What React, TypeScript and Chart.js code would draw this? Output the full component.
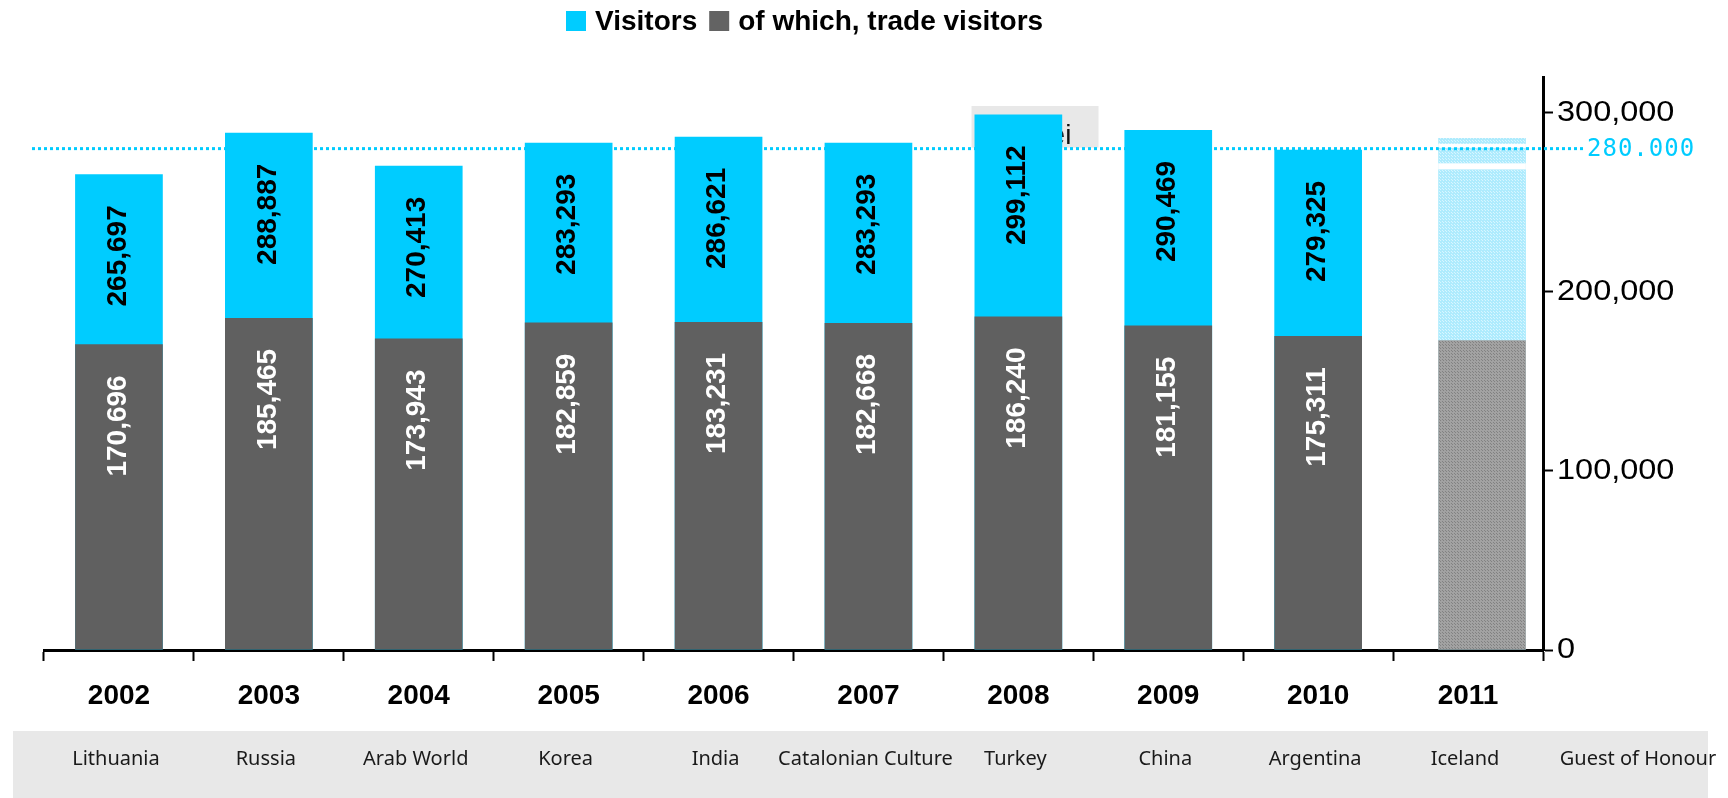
import React, { useEffect, useRef } from 'react';
import { Chart, registerables } from 'chart.js';

Chart.register(...registerables);

// ---- data ----
const years = ['2002', '2003', '2004', '2005', '2006', '2007', '2008', '2009', '2010', '2011'];
const guests = ['Lithuania', 'Russia', 'Arab World', 'Korea', 'India', 'Catalonian Culture', 'Turkey', 'China', 'Argentina', 'Iceland'];
const guestHeader = 'Guest of Honour';
const visitors = [265697, 288887, 270413, 283293, 286621, 283293, 299112, 290469, 279325, 286000];
const tradeVisitors = [170696, 185465, 173943, 182859, 183231, 182668, 186240, 181155, 175311, 173000];
const forecastIndex = 9;
const icelandGaps = [[282700, 280500], [271800, 268400]];
const targetLine = 280000;
const targetLabel = '280.000';
const yTicks = [0, 100000, 200000, 300000];
const yMax = 320000;
const noteText = 'Türkei';
const noteIndex = 6;
const legendLabels = ['Visitors', 'of which, trade visitors'];

const CYAN = '#00CCFF';
const GRAY = '#606060';
const W = 1728;
const H = 798;

function makePattern(base: string, dot: string): CanvasPattern | string {
  const c = document.createElement('canvas');
  c.width = 3;
  c.height = 3;
  const g = c.getContext('2d');
  if (!g) return base;
  g.fillStyle = base;
  g.fillRect(0, 0, 3, 3);
  g.fillStyle = dot;
  g.fillRect(0, 0, 1, 1);
  g.fillRect(2, 2, 1, 1);
  const ctx = document.createElement('canvas').getContext('2d');
  return (ctx && ctx.createPattern(c, 'repeat')) || base;
}

export default function App() {
  const ref = useRef<HTMLCanvasElement | null>(null);

  useEffect(() => {
    document.body.style.margin = '0';
    document.body.style.overflow = 'hidden';
    const canvas = ref.current;
    if (!canvas) return;

    const cyanPat = makePattern('#AEEBFD', '#D8F6FF');
    const grayPat = makePattern('#A2A2A2', '#828282');

    const fmt = (v: number) => v.toLocaleString('en-US');

    const drawTarget = (chart: any, x0: number, x1: number) => {
      const ctx = chart.ctx;
      const ty = chart.scales.y.getPixelForValue(targetLine);
      ctx.save();
      ctx.beginPath();
      ctx.rect(x0, 0, x1 - x0, H);
      ctx.clip();
      ctx.strokeStyle = CYAN;
      ctx.lineWidth = 3;
      ctx.setLineDash([3, 3]);
      ctx.beginPath();
      ctx.moveTo(32, ty);
      ctx.lineTo(chart.chartArea.right + 41, ty);
      ctx.stroke();
      ctx.restore();
    };

    const overlay = {
      id: 'overlay',
      afterDatasetsUpdate(chart: any) {
        // the 2011 (forecast) bar sits slightly right of its slot in the original
        [0, 1].forEach((di) => {
          const el = chart.getDatasetMeta(di).data[forecastIndex];
          if (el) el.x += 14;
        });
      },
      beforeDatasetsDraw(chart: any) {
        const ctx = chart.ctx;
        const ys = chart.scales.y;
        const area = chart.chartArea;
        const vMeta = chart.getDatasetMeta(1);
        const bar = vMeta.data[noteIndex];
        ctx.save();
        // annotation box (mostly hidden behind the 2008 bar)
        const boxL = bar.x - bar.width / 2 - 3;
        const boxT = ys.getPixelForValue(yMax) + 29;
        const boxB = ys.getPixelForValue(targetLine) - 1;
        ctx.fillStyle = '#E8E8E8';
        ctx.fillRect(boxL, boxT, 127, boxB - boxT);
        ctx.fillStyle = '#111';
        ctx.font = '28px "Liberation Sans", Arial, sans-serif';
        ctx.textAlign = 'center';
        ctx.textBaseline = 'alphabetic';
        ctx.fillText(noteText, boxL + 61, boxB - 4);
        ctx.restore();
        // dotted target line
        drawTarget(chart, 0, W);
        ctx.save();
        const ty = ys.getPixelForValue(targetLine);
        ctx.fillStyle = CYAN;
        ctx.font = '24px "DejaVu Sans Mono", monospace';
        (ctx as any).letterSpacing = '1px';
        ctx.textAlign = 'left';
        ctx.textBaseline = 'middle';
        ctx.fillText(targetLabel, area.right + 44, ty + 1);
        (ctx as any).letterSpacing = '0px';
        ctx.restore();
      },
      afterDatasetsDraw(chart: any) {
        const ctx = chart.ctx;
        const ys = chart.scales.y;
        const xs = chart.scales.x;
        ctx.save();
        // white gaps in the forecast bar
        const fb = chart.getDatasetMeta(1).data[forecastIndex];
        ctx.fillStyle = '#FFFFFF';
        icelandGaps.forEach(([a, b]) => {
          const y1 = ys.getPixelForValue(a);
          const y2 = ys.getPixelForValue(b);
          ctx.fillRect(fb.x - fb.width / 2, y1, fb.width, y2 - y1);
        });
        ctx.restore();
        drawTarget(chart, fb.x - fb.width / 2, fb.x + fb.width / 2);
        ctx.save();
        // value labels
        ctx.font = 'bold 28px "Liberation Sans", Arial, sans-serif';
        ctx.textAlign = 'right';
        ctx.textBaseline = 'middle';
        [1, 0].forEach((di) => {
          const meta = chart.getDatasetMeta(di);
          const vals = di === 1 ? visitors : tradeVisitors;
          ctx.fillStyle = di === 1 ? '#000000' : '#FFFFFF';
          meta.data.forEach((el: any, i: number) => {
            if (i === forecastIndex) return;
            ctx.save();
            ctx.translate(el.x - 1, el.y + 31);
            ctx.rotate(-Math.PI / 2);
            ctx.fillText(fmt(vals[i]), 0, 0);
            ctx.restore();
          });
        });
        // guest of honour band
        ctx.fillStyle = '#E8E8E8';
        ctx.fillRect(13, 731, 1708 - 13, H - 731);
        ctx.fillStyle = '#1A1A1A';
        ctx.font = '20px "Noto Sans", sans-serif';
        ctx.textAlign = 'center';
        ctx.textBaseline = 'middle';
        guests.forEach((g, i) => {
          ctx.fillText(g, xs.getPixelForValue(i) - 3, 759);
        });
        ctx.fillText(guestHeader, 1638, 759);
        // legend
        ctx.font = 'bold 28px "Liberation Sans", Arial, sans-serif';
        ctx.textAlign = 'left';
        ctx.textBaseline = 'middle';
        let x = 566;
        const colors = [CYAN, '#636363'];
        legendLabels.forEach((lab, i) => {
          ctx.fillStyle = colors[i];
          ctx.fillRect(x, 11, 20, 20);
          x += 29;
          ctx.fillStyle = '#000';
          ctx.fillText(lab, x, 22);
          x += ctx.measureText(lab).width + 12;
        });
        ctx.restore();
      },
      afterDraw(chart: any) {
        const ctx = chart.ctx;
        const ys = chart.scales.y;
        const area = chart.chartArea;
        ctx.save();
        ctx.fillStyle = '#000';
        ctx.font = '29px "Liberation Sans", Arial, sans-serif';
        ctx.textAlign = 'left';
        ctx.textBaseline = 'middle';
        yTicks.forEach((v) => {
          ctx.save();
          ctx.translate(area.right + 14, ys.getPixelForValue(v));
          ctx.scale(1.12, 1);
          ctx.fillText(fmt(v), 0, 0);
          ctx.restore();
        });
        ctx.restore();
      },
    };

    const chart = new Chart(canvas, {
      type: 'bar',
      data: {
        labels: years,
        datasets: [
          {
            label: legendLabels[1],
            data: tradeVisitors,
            backgroundColor: years.map((_, i) => (i === forecastIndex ? grayPat : GRAY)) as any,
            order: 1,
            grouped: false,
            barPercentage: 0.585,
            categoryPercentage: 1,
          } as any,
          {
            label: legendLabels[0],
            data: visitors,
            backgroundColor: years.map((_, i) => (i === forecastIndex ? cyanPat : CYAN)) as any,
            order: 2,
            grouped: false,
            barPercentage: 0.585,
            categoryPercentage: 1,
          } as any,
        ],
      },
      options: {
        responsive: false,
        animation: false,
        devicePixelRatio: 1,
        layout: { padding: { left: 44, top: 77, right: 0, bottom: 0 } },
        plugins: { legend: { display: false }, tooltip: { enabled: false } },
        scales: {
          x: {
            grid: { offset: true, drawOnChartArea: false, tickLength: 11, tickWidth: 2, tickColor: '#000' },
            border: { display: true, color: '#000', width: 3 },
            ticks: {
              color: '#000',
              padding: 18,
              maxRotation: 0,
              font: { family: '"Liberation Sans", Arial, sans-serif', size: 28, weight: 'bold' },
            },
            afterFit: (s: any) => {
              s.height = 148;
            },
          },
          y: {
            position: 'right',
            min: 0,
            max: yMax,
            grid: { drawOnChartArea: false, tickLength: 10, tickWidth: 2, tickColor: '#000' },
            border: { display: true, color: '#000', width: 3 },
            ticks: { display: false },
            afterBuildTicks: (s: any) => {
              s.ticks = yTicks.map((v) => ({ value: v }));
            },
            afterFit: (s: any) => {
              s.width = 185;
            },
          },
        },
      } as any,
      plugins: [overlay],
    });

    return () => chart.destroy();
  }, []);

  return (
    <div style={{ position: 'absolute', left: 0, top: 0, width: W, height: H, background: '#fff' }}>
      <canvas ref={ref} width={W} height={H} style={{ width: W, height: H, display: 'block' }} />
    </div>
  );
}
